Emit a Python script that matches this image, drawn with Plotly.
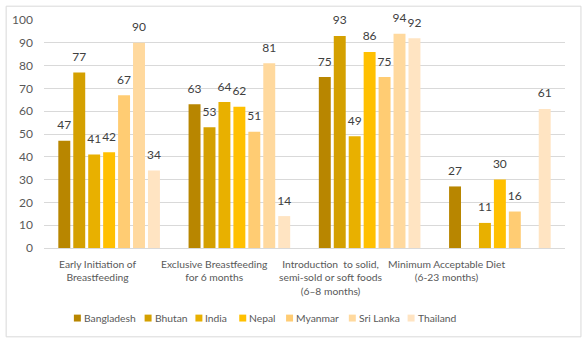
import plotly.graph_objects as go

# Feeding indicators (%), by country
categories = [
    "Early Initiation of<br>Breastfeeding",
    "Exclusive Breastfeeding<br>for 6 months",
    "Introduction  to solid,<br>semi-sold or soft foods<br>(6\u20138 months)",
    "Minimum Acceptable Diet<br>(6-23 months)",
]
countries = ["Bangladesh", "Bhutan", "India", "Nepal", "Myanmar", "Sri Lanka", "Thailand"]

bangladesh = [47, 63, 75, 27]
bhutan = [77, 53, 93, None]
india = [41, 64, 49, 11]
nepal = [42, 62, 86, 30]
myanmar = [67, 51, 75, 16]
sri_lanka = [90, 81, 94, None]
thailand = [34, 14, 92, 61]

series = [bangladesh, bhutan, india, nepal, myanmar, sri_lanka, thailand]
colors = ["#B88600", "#D4A000", "#E8B000", "#FFC000", "#FFCC73", "#FFD99E", "#FFE4C2"]

W, H = 586, 344
ML, MR, MT, MB = 42, 21, 17, 96
PW, PH = W - ML - MR, H - MT - MB
FONT = "Lato"
GAP = 0.197

fig = go.Figure()
xs = list(range(len(categories)))
for k, (name, vals, col) in enumerate(zip(countries, series, colors)):
    fig.add_trace(go.Bar(
        name=name, x=xs, y=vals, offsetgroup=str(k),
        marker=dict(color=col, line=dict(width=0)),
        showlegend=False, hoverinfo="skip",
    ))
# value labels sitting above each bar
for k, (name, vals) in enumerate(zip(countries, series)):
    fig.add_trace(go.Scatter(
        name=name, x=xs, y=vals, offsetgroup=str(k), mode="markers+text",
        marker=dict(size=12, color="rgba(0,0,0,0)"),
        text=[("" if v is None else str(v)) for v in vals],
        textposition="top center",
        textfont=dict(family=FONT, size=12, color="#404040"),
        cliponaxis=False, showlegend=False,
    ))

# category labels under each group
label_shift = [-11, -25, -39, -53]
annotations = []
for i, (cat, dx) in enumerate(zip(categories, label_shift)):
    annotations.append(dict(
        x=i, y=0, xref="x", yref="paper", text=cat, showarrow=False,
        xanchor="center", yanchor="top", yshift=-8, xshift=dx,
        align="center", font=dict(family=FONT, size=10.3, color="#595959"),
    ))

# legend row: colour swatch + country name
legend_px = [72, 143, 194, 238, 285, 348, 407]
shapes = []
leg_y = -(319 - (MT + PH))
for name, col, px in zip(countries, colors, legend_px):
    shapes.append(dict(type="rect", xref="paper", yref="paper",
                       x0=(px - ML) / PW, x1=(px + 7 - ML) / PW,
                       y0=(leg_y - 3.5) / PH, y1=(leg_y + 3.5) / PH,
                       fillcolor=col, line=dict(width=0)))
    annotations.append(dict(
        x=(px + 8 - ML) / PW, y=leg_y / PH, xref="paper", yref="paper",
        text=name, showarrow=False, xanchor="left", yanchor="middle",
        font=dict(family=FONT, size=10.3, color="#595959"),
    ))

# outer chart frame
shapes.append(dict(type="rect", xref="paper", yref="paper",
                   x0=(4 - ML) / PW, x1=(581 - ML) / PW,
                   y0=-(338 - MT - PH) / PH, y1=(MT + PH - 3) / PH,
                   line=dict(color="#D9D9D9", width=1), fillcolor="rgba(0,0,0,0)",
                   layer="below"))

fig.update_layout(
    width=W, height=H,
    margin=dict(l=ML, r=MR, t=MT, b=MB),
    paper_bgcolor="white", plot_bgcolor="white",
    barmode="group", bargap=GAP, bargroupgap=0.2,
    scattermode="group", scattergap=GAP,
    font=dict(family=FONT, size=11, color="#595959"),
    annotations=annotations, shapes=shapes,
    xaxis=dict(range=[-0.5, len(categories) - 0.5], showticklabels=False,
               showgrid=False, zeroline=False, showline=False, ticks=""),
    yaxis=dict(range=[0, 100], dtick=10, showgrid=True, gridcolor="#D9D9D9",
               gridwidth=1, zeroline=True, zerolinecolor="#D9D9D9", zerolinewidth=1,
               ticks="", ticklabelstandoff=10,
               tickfont=dict(family=FONT, size=12, color="#595959")),
)

fig.write_html("out.html")
